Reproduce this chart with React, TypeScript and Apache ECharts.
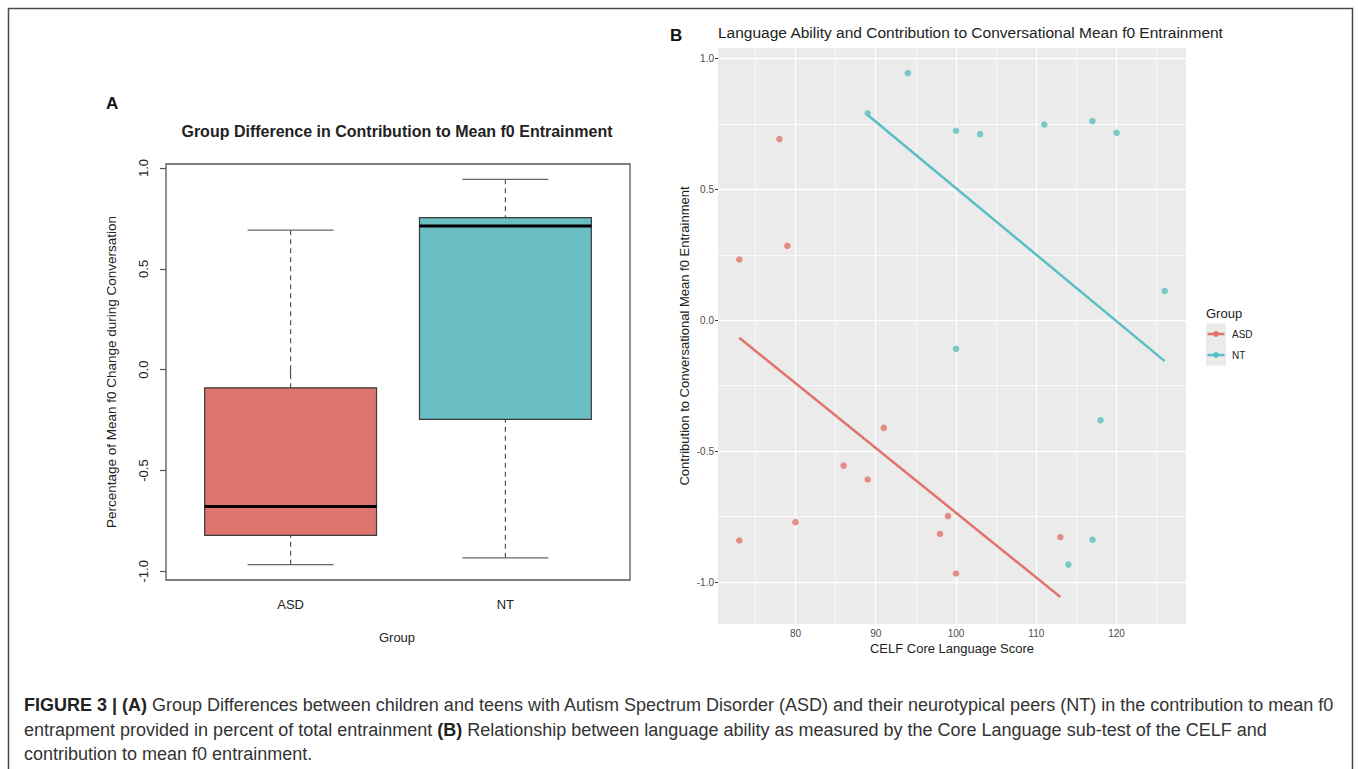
import React, { useEffect, useRef } from "react";
import * as echarts from "echarts";

// ---------- Panel A (box plot) ----------
const groups = ["ASD", "NT"];
const groupPos = [1, 2];
const boxMin = [-0.967, -0.933];
const boxQ1 = [-0.822, -0.246];
const boxMedian = [-0.678, 0.713];
const boxQ3 = [-0.09, 0.754];
const boxMax = [0.692, 0.944];
const yTicks = [-1, -0.5, 0, 0.5, 1];

// ---------- Panel B (scatter) ----------
const asdScore = [73, 78, 79, 73, 80, 86, 89, 91, 98, 99, 100, 113];
const asdEntrain = [0.232, 0.692, 0.284, -0.841, -0.771, -0.555, -0.608, -0.411, -0.816, -0.748, -0.967, -0.828];
const ntScore = [89, 94, 100, 103, 111, 117, 120, 126, 100, 118, 117, 114];
const ntEntrain = [0.791, 0.944, 0.724, 0.711, 0.748, 0.761, 0.716, 0.112, -0.109, -0.382, -0.838, -0.933];
const asdFitX = [73, 113];
const asdFitY = [-0.067, -1.057];
const ntFitX = [89, 126];
const ntFitY = [0.784, -0.156];
const xTicksB = [80, 90, 100, 110, 120];
const xMinorB = [75, 85, 95, 105, 115, 125];
const yMinorB = [-0.75, -0.25, 0.25, 0.75];

const FONT = "'Liberation Sans', Arial, Helvetica, sans-serif";
const boxColors = ["#DD756E", "#6ABEC1"];
const RED = "#E2736A";
const TEAL = "#5BBEC2";

const zip = (a: number[], b: number[]) => a.map((v, i) => [v, b[i]]);

export default function App() {
  const ref = useRef<HTMLDivElement>(null);
  useEffect(() => {
    if (!ref.current) return;
    const chart = echarts.init(ref.current, undefined, { renderer: "svg" });

    const boxData = groups.map((g, i) => [groupPos[i], boxMin[i], boxQ1[i], boxMedian[i], boxQ3[i], boxMax[i]]);

    const gridLines = [
      ...xTicksB.map((v) => ({ xAxis: v, lineStyle: { width: 1.3 } })),
      ...xMinorB.map((v) => ({ xAxis: v, lineStyle: { width: 0.7 } })),
      ...yTicks.map((v) => ({ yAxis: v, lineStyle: { width: 1.3 } })),
      ...yMinorB.map((v) => ({ yAxis: v, lineStyle: { width: 0.7 } })),
    ];

    const CAP = 18;
    const captionRich = {
      b: { fontWeight: "bold" as const, fontFamily: FONT, fontSize: CAP, fill: "#222" },
    };

    const option: any = {
      animation: false,
      backgroundColor: "#fff",
      grid: [
        { left: 166, top: 164, width: 464, height: 416, show: true, borderColor: "#555", borderWidth: 1.3, backgroundColor: "transparent" },
        { left: 718, top: 48, width: 468, height: 576, show: true, borderWidth: 0, backgroundColor: "#EBEBEB" },
      ],
      xAxis: [
        {
          type: "value", gridIndex: 0, min: 0.42, max: 2.58,
          axisLine: { show: false }, splitLine: { show: false },
          axisTick: { show: true, customValues: groupPos, length: 6, lineStyle: { color: "#555", width: 1.2 } },
          axisLabel: { customValues: groupPos, formatter: (v: number) => groups[Math.round(v) - 1] || "", margin: 18, fontFamily: FONT, fontSize: 13, color: "#222" },
        },
        {
          type: "value", gridIndex: 1, min: 70.35, max: 128.65,
          axisLine: { show: false }, splitLine: { show: false },
          axisTick: { show: true, customValues: xTicksB, length: 3, lineStyle: { color: "#333", width: 1 } },
          axisLabel: { customValues: xTicksB, margin: 4, fontFamily: FONT, fontSize: 10, color: "#4D4D4D" },
        },
      ],
      yAxis: [
        {
          type: "value", gridIndex: 0, min: -1.043, max: 1.02,
          axisLine: { show: false }, splitLine: { show: false },
          axisTick: { show: true, customValues: yTicks, length: 6, lineStyle: { color: "#555", width: 1.2 } },
          axisLabel: { customValues: yTicks, rotate: 90, margin: 16, formatter: (v: number) => v.toFixed(1), fontFamily: FONT, fontSize: 13, color: "#222" },
        },
        {
          type: "value", gridIndex: 1, min: -1.16, max: 1.04,
          axisLine: { show: false }, splitLine: { show: false },
          axisTick: { show: true, customValues: yTicks, length: 3, lineStyle: { color: "#333", width: 1 } },
          axisLabel: { customValues: yTicks, margin: 4, formatter: (v: number) => v.toFixed(1), fontFamily: FONT, fontSize: 10, color: "#4D4D4D" },
        },
      ],
      series: [
        {
          type: "custom", xAxisIndex: 0, yAxisIndex: 0,
          data: boxData,
          encode: { x: 0, y: [1, 2, 3, 4, 5] },
          renderItem: (params: any, api: any) => {
            const x = api.value(0);
            const mn = api.value(1), q1 = api.value(2), md = api.value(3), q3 = api.value(4), mx = api.value(5);
            const idx = params.dataIndex;
            const hw = 0.4, cw = 0.2;
            const pMin = api.coord([x, mn]);
            const pMax = api.coord([x, mx]);
            const pQ1 = api.coord([x, q1]);
            const pQ3 = api.coord([x, q3]);
            const tl = api.coord([x - hw, q3]);
            const br = api.coord([x + hw, q1]);
            const ml = api.coord([x - hw, md]);
            const mr = api.coord([x + hw, md]);
            const cMinL = api.coord([x - cw, mn]);
            const cMinR = api.coord([x + cw, mn]);
            const cMaxL = api.coord([x - cw, mx]);
            const cMaxR = api.coord([x + cw, mx]);
            const dash = { stroke: "#555", lineWidth: 1.2, lineDash: [5, 4] };
            const cap = { stroke: "#666", lineWidth: 1.3 };
            return {
              type: "group",
              children: [
                { type: "line", shape: { x1: pMax[0], y1: pMax[1], x2: pQ3[0], y2: pQ3[1] }, style: dash },
                { type: "line", shape: { x1: pMin[0], y1: pMin[1], x2: pQ1[0], y2: pQ1[1] }, style: dash },
                { type: "line", shape: { x1: cMaxL[0], y1: cMaxL[1], x2: cMaxR[0], y2: cMaxR[1] }, style: cap },
                { type: "line", shape: { x1: cMinL[0], y1: cMinL[1], x2: cMinR[0], y2: cMinR[1] }, style: cap },
                { type: "rect", shape: { x: tl[0], y: tl[1], width: br[0] - tl[0], height: br[1] - tl[1] }, style: { fill: boxColors[idx], stroke: "#3a3a3a", lineWidth: 1.2 } },
                { type: "line", shape: { x1: ml[0], y1: ml[1], x2: mr[0], y2: mr[1] }, style: { stroke: "#000", lineWidth: 3 } },
              ],
            };
          },
        },
        {
          name: "ASD", type: "scatter", xAxisIndex: 1, yAxisIndex: 1, z: 3,
          data: zip(asdScore, asdEntrain), symbolSize: 6.5, itemStyle: { color: RED },
          markLine: {
            z: 1, silent: true, symbol: "none", label: { show: false },
            lineStyle: { color: "#fff", type: "solid" },
            data: gridLines,
          },
        },
        {
          name: "NT", type: "scatter", xAxisIndex: 1, yAxisIndex: 1, z: 3,
          data: zip(ntScore, ntEntrain), symbolSize: 6.5, itemStyle: { color: TEAL },
        },
        {
          type: "line", xAxisIndex: 1, yAxisIndex: 1, z: 4, showSymbol: false,
          data: zip(asdFitX, asdFitY), lineStyle: { color: RED, width: 2.5 },
        },
        {
          type: "line", xAxisIndex: 1, yAxisIndex: 1, z: 4, showSymbol: false,
          data: zip(ntFitX, ntFitY), lineStyle: { color: TEAL, width: 2.5 },
        },
      ],
      graphic: [
        // outer frame
        { type: "polyline", shape: { points: [[8.5, 800], [8.5, 8.5], [1352.5, 8.5], [1352.5, 800]] }, style: { stroke: "#4a4a4a", lineWidth: 1.5, fill: "none" }, silent: true },
        // Panel A texts
        { type: "text", x: 106, y: 103, style: { text: "A", font: `bold 17px ${FONT}`, fill: "#111", textAlign: "left", textVerticalAlign: "middle" } },
        { type: "text", x: 397, y: 131, style: { text: "Group Difference in Contribution to Mean f0 Entrainment", font: `bold 16px ${FONT}`, fill: "#222", textAlign: "center", textVerticalAlign: "middle" } },
        { type: "text", x: 397, y: 637, style: { text: "Group", font: `13px ${FONT}`, fill: "#222", textAlign: "center", textVerticalAlign: "middle" } },
        { type: "text", x: 111, y: 372, rotation: Math.PI / 2, style: { text: "Percentage of Mean f0 Change during Conversation", font: `13.5px ${FONT}`, fill: "#222", textAlign: "center", textVerticalAlign: "middle" } },
        // Panel B texts
        { type: "text", x: 670, y: 35, style: { text: "B", font: `bold 17px ${FONT}`, fill: "#111", textAlign: "left", textVerticalAlign: "middle" } },
        { type: "text", x: 718, y: 32, style: { text: "Language Ability and Contribution to Conversational Mean f0 Entrainment", font: `15.5px ${FONT}`, fill: "#222", textAlign: "left", textVerticalAlign: "middle" } },
        { type: "text", x: 952, y: 648, style: { text: "CELF Core Language Score", font: `13px ${FONT}`, fill: "#222", textAlign: "center", textVerticalAlign: "middle" } },
        { type: "text", x: 684, y: 336, rotation: Math.PI / 2, style: { text: "Contribution to Conversational Mean f0 Entrainment", font: `13px ${FONT}`, fill: "#222", textAlign: "center", textVerticalAlign: "middle" } },
        // Legend
        { type: "text", x: 1206, y: 313, style: { text: "Group", font: `13px ${FONT}`, fill: "#222", textAlign: "left", textVerticalAlign: "middle" } },
        { type: "rect", shape: { x: 1206, y: 323.5, width: 20, height: 21 }, style: { fill: "#EBEBEB" } },
        { type: "rect", shape: { x: 1206, y: 344.5, width: 20, height: 21 }, style: { fill: "#EBEBEB" } },
        { type: "line", shape: { x1: 1207.5, y1: 334, x2: 1224.5, y2: 334 }, style: { stroke: RED, lineWidth: 2.5 } },
        { type: "circle", shape: { cx: 1216, cy: 334, r: 3 }, style: { fill: RED } },
        { type: "line", shape: { x1: 1207.5, y1: 355, x2: 1224.5, y2: 355 }, style: { stroke: TEAL, lineWidth: 2.5 } },
        { type: "circle", shape: { cx: 1216, cy: 355, r: 3 }, style: { fill: TEAL } },
        { type: "text", x: 1232, y: 334, style: { text: "ASD", font: `10px ${FONT}`, fill: "#222", textAlign: "left", textVerticalAlign: "middle" } },
        { type: "text", x: 1232, y: 355, style: { text: "NT", font: `10px ${FONT}`, fill: "#222", textAlign: "left", textVerticalAlign: "middle" } },
        // Caption
        {
          type: "text", x: 24, y: 705,
          style: {
            text: "{b|FIGURE 3 | (A)} Group Differences between children and teens with Autism Spectrum Disorder (ASD) and their neurotypical peers (NT) in the contribution to mean f0",
            font: `${CAP}px ${FONT}`, fill: "#333", textAlign: "left", textVerticalAlign: "middle", rich: captionRich,
          },
        },
        {
          type: "text", x: 24, y: 730,
          style: {
            text: "entrapment provided in percent of total entrainment {b|(B)} Relationship between language ability as measured by the Core Language sub-test of the CELF and",
            font: `${CAP}px ${FONT}`, fill: "#333", textAlign: "left", textVerticalAlign: "middle", rich: captionRich,
          },
        },
        {
          type: "text", x: 24, y: 754,
          style: { text: "contribution to mean f0 entrainment.", font: `${CAP}px ${FONT}`, fill: "#333", textAlign: "left", textVerticalAlign: "middle" },
        },
      ],
    };
    chart.setOption(option);
    return () => chart.dispose();
  }, []);
  return <div ref={ref} style={{ position: "absolute", left: 0, top: 0, width: 1358, height: 769 }} />;
}
